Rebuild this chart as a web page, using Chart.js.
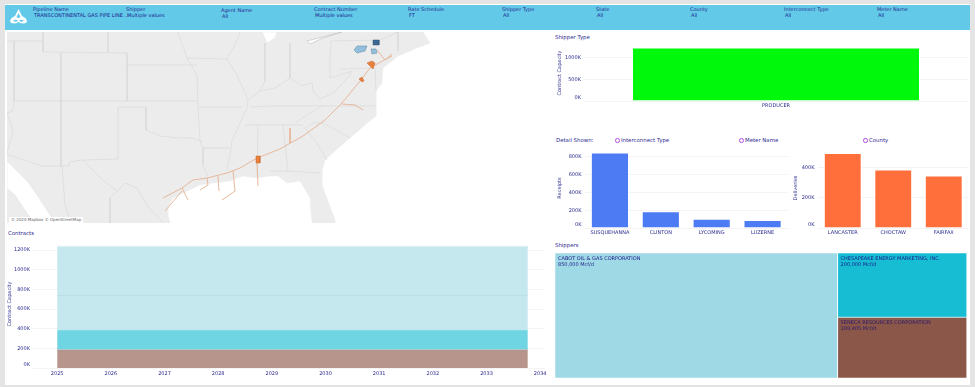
<!DOCTYPE html>
<html>
<head>
<meta charset="utf-8">
<title>Contracts dashboard</title>
<script src="https://cdn.jsdelivr.net/npm/chart.js@4"></script>
<style>
  html, body { margin: 0; padding: 0; background: #fff; }
  #page { position: relative; width: 975px; height: 387px; overflow: hidden; background: #fff;
          font-family: "DejaVu Sans", sans-serif; color: #2b2b8f; font-size: 5px; filter: blur(0.35px); }
  #page canvas { position: absolute; }
  .frame { position: absolute; background: #e4e4e4; }
  #header { position: absolute; left: 5px; top: 5px; width: 965px; height: 25px; background: #62c9e9; }
  #logo { position: absolute; left: 9px; top: 8px; }
  .filter { position: absolute; white-space: nowrap; line-height: 6px; }
  .filter b { display: block; font-weight: normal; }
  .filter span { display: block; margin-left: 1px; color: #1c1c8c; }
  .title { position: absolute; white-space: nowrap; font-size: 5.4px; line-height: 7px; }
  .radio { position: absolute; width: 2.6px; height: 2.6px; border: 1.2px solid #b64ce6; border-radius: 50%; }
  #credit { position: absolute; left: 9px; top: 217px; padding: 0 2px; background: #fff; color: #666; font-size: 4px; line-height: 6px; white-space: nowrap; }
</style>
</head>
<body>
<div id="page">
  <div class="frame" style="left:0;top:0;width:975px;height:4px"></div>
  <div class="frame" style="left:0;top:0;width:5px;height:387px"></div>
  <div class="frame" style="left:970px;top:0;width:5px;height:387px"></div>
  <div class="frame" style="left:0;top:385px;width:975px;height:2px"></div>
  <div id="header"></div>
  <svg id="logo" width="19" height="18" viewBox="0 0 19 18">
    <path d="M9.5 1 L13 8 Q18 10 18 14 Q14 17 9.5 14 Q5 17 1 14 Q1 10 6 8 Z" fill="#fff"/>
    <path d="M9.5 5 L11.5 9 Q9.5 11 7.5 9 Z M4 12.5 Q7 11 9 13 Q6 14.5 4 12.5 Z M15 12.5 Q12 11 10 13 Q13 14.5 15 12.5 Z" fill="#62c9e9"/>
  </svg>
  <canvas id="mapChart" width="528" height="191" style="left:7px;top:32px;width:528px;height:191px"></canvas>
  <div id="credit">© 2020 Mapbox © OpenStreetMap</div>

  <div class="title" style="left:555px;top:34px">Shipper Type</div>
  <canvas id="shipperTypeChart" width="415" height="66" style="left:555px;top:45px;width:415px;height:66px"></canvas>

  <div class="title" style="left:556px;top:137px">Detail Shown:</div>
  <i class="radio" style="left:615px;top:138px"></i><div class="title" style="left:621px;top:137px">Interconnect Type</div>
  <i class="radio" style="left:739px;top:138px"></i><div class="title" style="left:745px;top:137px">Meter Name</div>
  <i class="radio" style="left:863px;top:138px"></i><div class="title" style="left:869px;top:137px">County</div>
  <canvas id="receiptsChart" width="235" height="90" style="left:555px;top:148px;width:235px;height:90px"></canvas>
  <canvas id="deliveriesChart" width="181" height="90" style="left:790px;top:148px;width:181px;height:90px"></canvas>

  <div class="title" style="left:8px;top:230px">Contracts</div>
  <canvas id="contractsChart" width="547" height="140" style="left:5px;top:240px;width:547px;height:140px"></canvas>

  <div class="title" style="left:555px;top:242px">Shippers</div>
  <canvas id="shippersChart" width="412" height="125" style="left:555px;top:253px;width:412px;height:125px"></canvas>
</div>

<script>
const filterNames = ['Pipeline Name', 'Shipper', 'Agent Name', 'Contract Number', 'Rate Schedule', 'Shipper Type', 'State', 'County', 'Interconnect Type', 'Meter Name'];
const filterValues = ['TRANSCONTINENTAL GAS PIPE LINE ...', 'Multiple values', 'All', 'Multiple values', 'FT', 'All', 'All', 'All', 'All', 'All'];

const shipperTypes = ['PRODUCER'];
const shipperTypeCapacity = [1239405];
const shipperTypeTicks = [0, 500000, 1000000];

const receiptCounties = ['SUSQUEHANNA', 'CLINTON', 'LYCOMING', 'LUZERNE'];
const receiptValues = [850000, 189405, 105000, 90000];
const receiptTicks = [0, 200000, 400000, 600000, 800000];

const deliveryCounties = ['LANCASTER', 'CHOCTAW', 'FAIRFAX'];
const deliveryValues = [500000, 390000, 349405];
const deliveryTicks = [0, 200000, 400000];

const contractYears = [2025, 2026, 2027, 2028, 2029, 2030, 2031, 2032, 2033, 2034];
const contractPeriod = [2025, 2033.77];
const contractLayers = [189405, 200000, 350000, 500000];
const contractTicks = [0, 200000, 400000, 600000, 800000, 1000000, 1200000];

const shipperNames = ['CABOT OIL & GAS CORPORATION', 'CHESAPEAKE ENERGY MARKETING, INC.', 'SENECA RESOURCES CORPORATION'];
const shipperCapacity = [850000, 200000, 189405];
const shipperLabels = ['850,000 Mcf/d', '200,000 Mcf/d', '189,405 Mcf/d'];

// map, same units as the picture
const landShape = [[7,32],[423,32],[430,43],[417,48],[398,56],[392,61],[383,68],[382,83],[376,91],[376,105],[376,116],[365,125],[350,138],[335,151],[325,160],[322,171],[322,185],[328,201],[335,220],[335,223],[312,223],[310,198],[300,181],[287,183],[278,176],[270,176],[257,178],[243,176],[230,181],[213,183],[200,185],[187,191],[173,198],[168,207],[168,215],[170,223],[7,223]];
const gulfOfCalifornia = [[7,161],[27,181],[37,195],[50,215],[60,223],[34,223],[25,210],[15,195],[7,188]];
const lakeMichigan = [[262,32],[267,43],[275,38],[277,32]];
const lakeErie = [[342,32],[330,35],[307,41],[310,44],[323,38]];
const stateLines = [
  [[43,32],[43,52],[127,53],[127,101]],
  [[108,32],[108,52]],
  [[61,53],[61,166]],
  [[14,41],[14,101],[13,111],[7,113],[13,131],[7,153]],
  [[7,41],[42,41]],
  [[13,101],[197,101]],
  [[127,65],[197,65]],
  [[7,154],[42,166],[69,166],[69,162],[83,160],[118,159],[118,107],[146,107],[146,130],[160,136],[180,138],[193,138],[203,142]],
  [[178,32],[187,58],[197,75],[198,107],[200,141],[203,148],[203,165],[208,176]],
  [[187,58],[227,59]],
  [[240,32],[235,45],[227,59],[237,75],[248,100],[247,108],[232,141],[230,155],[227,170]],
  [[198,107],[242,107]],
  [[203,148],[230,148]],
  [[245,125],[303,125]],
  [[258,125],[257,175]],
  [[83,160],[100,178],[117,191],[125,183],[137,188],[147,205],[163,223]],
  [[62,166],[65,205],[70,220]],
  [[117,191],[110,198],[110,223]],
  [[265,43],[265,81],[260,91],[248,100]],
  [[260,91],[275,88],[290,78],[302,86],[312,83],[313,91],[320,99],[333,93],[345,81],[352,71],[340,75],[330,78],[330,58],[331,41],[380,40],[398,32]],
  [[398,32],[398,51]],
  [[290,43],[290,78]],
  [[250,107],[270,106],[375,106]],
  [[340,69],[375,68],[376,91]],
  [[295,123],[307,115],[322,106]],
  [[305,128],[315,122],[325,124],[350,138]],
  [[305,128],[318,145],[327,160]],
  [[283,125],[288,171],[320,173]],
  [[270,171],[288,171]]
];
const pipelineRuns = [
  [[163,198],[182,188],[193,180],[207,178],[227,173],[240,168],[257,158],[280,149],[287,145],[303,136],[325,120],[342,103],[360,81],[370,68],[377,64],[392,56]],
  [[182,188],[188,200]],
  [[165,211],[182,191]],
  [[207,178],[208,185],[200,190]],
  [[218,176],[219,191]],
  [[233,171],[235,191],[222,200]],
  [[257,161],[258,186]],
  [[290,128],[290,143]],
  [[342,104],[355,105],[363,110]],
  [[377,50],[385,60],[392,54]]
];
const receiptAreas = [
  [[354,50],[357,46],[367,46],[365,51],[357,53]],
  [[371,49],[376,49],[377,53],[372,54]]
];
const topReceiptArea = [[373,40],[379,40],[379,45],[373,45]];
const deliveryAreas = [
  [[367,63],[372,61],[375,63],[373,69],[370,66]],
  [[359,79],[362,77],[364,81],[362,82]],
  [[256,156],[260,156],[260,163],[256,163]]
];

const inkColor = '#2b2b8f';
const gridColor = '#f4f4f4';

Chart.defaults.animation = false;
Chart.defaults.responsive = false;
Chart.defaults.font.family = '"DejaVu Sans", sans-serif';
Chart.defaults.font.size = 5;
Chart.defaults.color = inkColor;
Chart.defaults.plugins.legend.display = false;
Chart.defaults.plugins.tooltip.enabled = false;

const page = document.getElementById('page');
const filterLeft = [33, 126, 221, 314, 408, 502, 596, 690, 784, 877];
filterNames.forEach((name, i) => {
  const el = document.createElement('div');
  el.className = 'filter';
  el.style.left = filterLeft[i] + 'px';
  el.style.top = (i === 2 ? 7 : 6) + 'px';
  el.innerHTML = '<b>' + name + '</b><span>' + filterValues[i] + '</span>';
  page.appendChild(el);
});

// the 0K label sits a little above its gridline in the picture
const zeroLabelLift = {
  id: 'zeroLabelLift',
  beforeDraw(chart) {
    chart.scales.y.getLabelItems().forEach(item => {
      if (item.label === '0K' && !item.lifted) {
        item.options.translation[1] -= 3.5;
        item.lifted = true;
      }
    });
  }
};

function capacityAxis(title, tickValues, max, width, titleGap) {
  return {
    min: 0,
    max: max,
    border: { display: false },
    grid: { color: gridColor, drawTicks: false, lineWidth: 1 },
    afterBuildTicks: scale => { scale.ticks = tickValues.map(v => ({ value: v })); },
    ticks: { padding: 3, autoSkip: false, callback: v => (v / 1000) + 'K' },
    title: { display: true, text: title, padding: { top: titleGap, bottom: 0 } },
    afterFit: scale => {
      scale.width = width;
      scale.paddingTop = 0;
      scale.paddingBottom = 0;
    }
  };
}

function bottomAxis(height) {
  return {
    border: { display: false },
    grid: { display: false, drawTicks: false },
    ticks: { padding: 2, autoSkip: false, maxRotation: 0 },
    afterFit: scale => {
      scale.height = height;
      scale.paddingLeft = 0;
      scale.paddingRight = 0;
    }
  };
}

function barChart(id, labels, values, color, yAxis) {
  return new Chart(document.getElementById(id), {
    type: 'bar',
    data: {
      labels: labels,
      datasets: [{
        data: values,
        backgroundColor: color,
        borderColor: 'rgba(255,255,255,0.45)',
        borderWidth: 1,
        categoryPercentage: 1,
        barPercentage: 0.75
      }]
    },
    options: {
      layout: { padding: { right: 2 } },
      scales: { x: bottomAxis(10), y: yAxis }
    },
    plugins: [zeroLabelLift]
  });
}

barChart('shipperTypeChart', shipperTypes, shipperTypeCapacity, '#00f90a', capacityAxis('Contract Capacity', shipperTypeTicks, 1297000, 29, 2));
barChart('receiptsChart', receiptCounties, receiptValues, '#4d7bf3', capacityAxis('Receipts', receiptTicks, 901000, 29.5, 2));
barChart('deliveriesChart', deliveryCounties, deliveryValues, '#ff6f3c', capacityAxis('Deliveries', deliveryTicks, 533000, 27.5, 3));

// contracts: stacked areas over the contract period
const contractFills = ['#b8958c', '#70d5e2', '#c5e8ee', '#c5e8ee'];
const contractEdges = ['#a9cdd0', '#bfe9ee', '#b8e0e8', '#dff2f5'];
new Chart(document.getElementById('contractsChart'), {
  type: 'line',
  data: {
    datasets: contractLayers.map((v, i) => ({
      data: contractPeriod.map(x => ({ x: x, y: v })),
      fill: i === 0 ? 'origin' : '-1',
      backgroundColor: contractFills[i],
      borderColor: contractEdges[i],
      borderWidth: 1,
      pointRadius: 0,
      tension: 0
    }))
  },
  options: {
    layout: { padding: { right: 7 } },
    scales: {
      x: Object.assign(bottomAxis(12), {
        type: 'linear',
        min: 2024.55,
        max: 2034.09,
        afterBuildTicks: scale => { scale.ticks = contractYears.map(v => ({ value: v })); },
        ticks: { padding: 3, autoSkip: false, maxRotation: 0, callback: v => String(v) }
      }),
      y: Object.assign(capacityAxis('Contract Capacity', contractTicks, 1303000, 28, 2), { stacked: true })
    }
  },
  plugins: [zeroLabelLift]
});

// shippers treemap: rectangles come out of the capacities
const shipperColors = ['#9fd9e5', '#17bdd2', '#8b5749'];
const totalCapacity = shipperCapacity.reduce((a, b) => a + b, 0);
const rightColumn = shipperCapacity[1] + shipperCapacity[2];
const shipperBoxes = [
  { x0: 0, x1: shipperCapacity[0], y0: 0, y1: 1 },
  { x0: shipperCapacity[0], x1: totalCapacity, y0: 0, y1: shipperCapacity[1] / rightColumn },
  { x0: shipperCapacity[0], x1: totalCapacity, y0: shipperCapacity[1] / rightColumn, y1: 1 }
];
const boxLabels = {
  id: 'boxLabels',
  afterDatasetsDraw(chart) {
    const { ctx, scales } = chart;
    ctx.save();
    ctx.font = '5px "DejaVu Sans", sans-serif';
    ctx.textBaseline = 'middle';
    shipperBoxes.forEach((b, i) => {
      const left = scales.x.getPixelForValue(b.x0) + 3;
      const top = scales.y.getPixelForValue(b.y0);
      ctx.fillStyle = i === 2 ? '#2a1a6e' : '#1c1c8c';
      ctx.fillText(shipperNames[i], left, top + 6);
      ctx.fillText(shipperLabels[i], left, top + 12);
    });
    ctx.restore();
  }
};
new Chart(document.getElementById('shippersChart'), {
  type: 'scatter',
  data: {
    datasets: shipperBoxes.map((b, i) => ({
      data: [{ x: b.x0, y: b.y0 }, { x: b.x1, y: b.y0 }, { x: b.x1, y: b.y1 }, { x: b.x0, y: b.y1 }, { x: b.x0, y: b.y0 }],
      showLine: true,
      fill: 'shape',
      backgroundColor: shipperColors[i],
      borderColor: 'rgba(255,255,255,0.5)',
      borderWidth: 1,
      pointRadius: 0,
      tension: 0
    }))
  },
  options: {
    scales: {
      x: { type: 'linear', display: false, min: 0, max: totalCapacity },
      y: { type: 'linear', display: false, min: 0, max: 1, reverse: true }
    }
  },
  plugins: [boxLabels]
});

// map
function mapSet(points, color, width, fillColor, order) {
  return {
    data: points.map(p => ({ x: p[0], y: p[1] })),
    showLine: true,
    fill: fillColor ? 'shape' : false,
    backgroundColor: fillColor || 'transparent',
    borderColor: color,
    borderWidth: width,
    pointRadius: 0,
    tension: 0,
    order: order
  };
}
const closed = pts => pts.concat([pts[0]]);
new Chart(document.getElementById('mapChart'), {
  type: 'scatter',
  data: {
    datasets: [
      mapSet(closed(landShape), '#ececec', 0.5, '#ececec', 50),
      mapSet(closed(gulfOfCalifornia), '#e4e4e4', 0.5, '#ffffff', 49),
      mapSet(closed(lakeMichigan), '#e4e4e4', 0.5, '#ffffff', 48),
      mapSet(closed(lakeErie), '#c4c4c4', 0.7, '#ffffff', 47),
      ...stateLines.map(l => mapSet(l, '#d6d6d6', 0.6, null, 40)),
      ...pipelineRuns.map(l => mapSet(l, '#e6b89c', 1, null, 30)),
      ...receiptAreas.map(s => mapSet(closed(s), '#6d93ad', 0.6, '#92bfdc', 20)),
      mapSet(closed(topReceiptArea), '#33597f', 0.5, '#3d6a94', 20),
      ...deliveryAreas.map(s => mapSet(closed(s), '#c9682f', 0.5, '#e8803f', 20))
    ]
  },
  options: {
    scales: {
      x: { type: 'linear', display: false, min: 7, max: 535 },
      y: { type: 'linear', display: false, min: 32, max: 223, reverse: true }
    }
  }
});
</script>
</body>
</html>
